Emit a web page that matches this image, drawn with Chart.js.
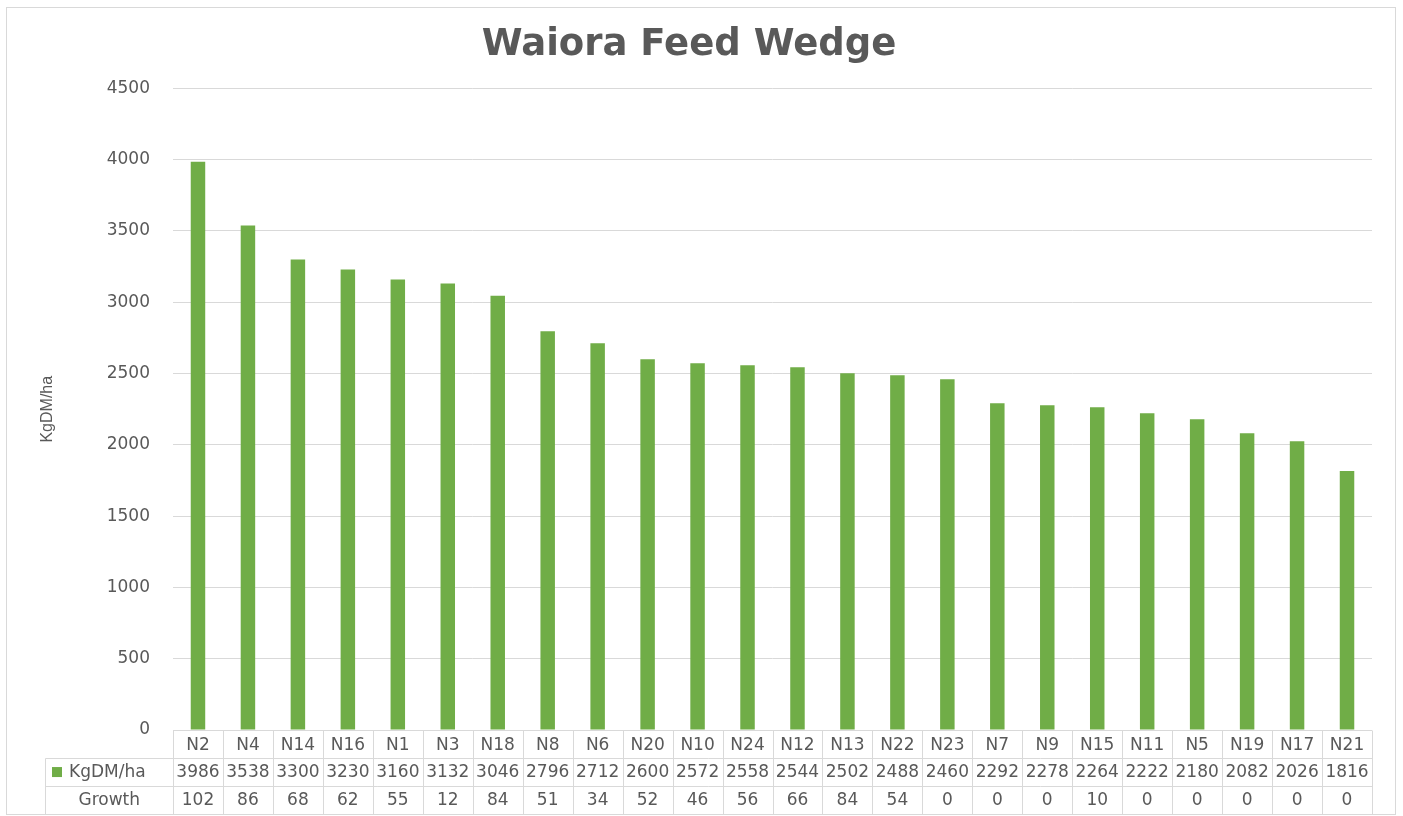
<!DOCTYPE html>
<html>
<head>
<meta charset="utf-8">
<title>Waiora Feed Wedge</title>
<script src="https://cdn.jsdelivr.net/npm/chart.js@4"></script>
<style>
  html, body { margin: 0; background: #fff; }
  #wrap { width: 1403px; height: 816px; position: relative; }
</style>
</head>
<body>
<div id="wrap"><canvas id="feedWedge"></canvas></div>
<script>
// paddocks, sorted by cover
const paddocks = ["N2", "N4", "N14", "N16", "N1", "N3", "N18", "N8", "N6", "N20", "N10", "N24",
  "N12", "N13", "N22", "N23", "N7", "N9", "N15", "N11", "N5", "N19", "N17", "N21"];
const kgdm = [3986, 3538, 3300, 3230, 3160, 3132, 3046, 2796, 2712, 2600, 2572, 2558,
  2544, 2502, 2488, 2460, 2292, 2278, 2264, 2222, 2180, 2082, 2026, 1816];
const growth = [102, 86, 68, 62, 55, 12, 84, 51, 34, 52, 46, 56,
  66, 84, 54, 0, 0, 0, 10, 0, 0, 0, 0, 0];
const yMin = 0;
const yMax = 4500;
const yStep = 500;

const green = "#70ad47";
const textGrey = "#595959";
const lineGrey = "#d9d9d9";
const tableFont = "17px 'DejaVu Sans'";

// white background + outer frame
const framePlugin = {
  id: "frame",
  beforeDraw(chart) {
    const { ctx, width, height } = chart;
    ctx.save();
    ctx.fillStyle = "#fff";
    ctx.fillRect(0, 0, width, height);
    ctx.strokeStyle = lineGrey;
    ctx.lineWidth = 1;
    ctx.strokeRect(6.5, 7.5, width - 14, height - 9);
    ctx.restore();
  },
};

// data table under the plot (like the Excel chart data table)
const dataTablePlugin = {
  id: "dataTable",
  afterDraw(chart) {
    const { ctx, chartArea } = chart;
    const x = chart.scales.x;
    const n = paddocks.length;
    const colW = chartArea.width / n;
    const rowH = 27.7;
    const top = chartArea.bottom + 0.5;
    const labelLeft = 45.5;
    const left = chartArea.left;
    const right = chartArea.right;

    ctx.save();
    ctx.strokeStyle = lineGrey;
    ctx.lineWidth = 1;
    ctx.beginPath();
    ctx.moveTo(left, top);
    ctx.lineTo(right, top);
    for (let r = 1; r <= 3; r++) {
      const y = Math.round(top + r * rowH) + 0.5;
      ctx.moveTo(labelLeft, y);
      ctx.lineTo(right, y);
    }
    for (let i = 0; i <= n; i++) {
      const xx = Math.round(left + i * colW) + 0.5;
      ctx.moveTo(xx, top);
      ctx.lineTo(xx, Math.round(top + 3 * rowH) + 0.5);
    }
    ctx.moveTo(labelLeft, Math.round(top + rowH) + 0.5);
    ctx.lineTo(labelLeft, Math.round(top + 3 * rowH) + 0.5);
    ctx.stroke();

    ctx.fillStyle = textGrey;
    ctx.font = tableFont;
    ctx.textAlign = "center";
    ctx.textBaseline = "middle";
    paddocks.forEach((p, i) => {
      const cx = x.getPixelForValue(i);
      ctx.fillText(p, cx, top + rowH * 0.5 + 1);
      ctx.fillText(String(kgdm[i]), cx, top + rowH * 1.5 + 1);
      ctx.fillText(String(growth[i]), cx, top + rowH * 2.5 + 1);
    });

    // row labels
    ctx.fillStyle = green;
    ctx.fillRect(52, top + rowH * 1.5 - 5, 10, 10);
    ctx.fillStyle = textGrey;
    ctx.textAlign = "left";
    ctx.fillText("KgDM/ha", 69, top + rowH * 1.5 + 1);
    ctx.textAlign = "center";
    ctx.fillText("Growth", (labelLeft + left) / 2, top + rowH * 2.5 + 1);
    ctx.restore();
  },
};

new Chart(document.getElementById("feedWedge"), {
  type: "bar",
  data: {
    labels: paddocks,
    datasets: [
      {
        label: "KgDM/ha",
        data: kgdm,
        backgroundColor: green,
        categoryPercentage: 1,
        barPercentage: 0.29,
      },
    ],
  },
  options: {
    responsive: true,
    maintainAspectRatio: false,
    animation: false,
    layout: { padding: { left: 6, right: 31, top: 7, bottom: 86 } },
    plugins: {
      legend: { display: false },
      tooltip: { enabled: false },
      title: {
        display: true,
        text: "Waiora Feed Wedge",
        color: textGrey,
        font: { family: "'DejaVu Sans'", size: 37, weight: "bold" },
        padding: { top: 16, bottom: 21 },
      },
    },
    scales: {
      x: { display: false },
      y: {
        min: yMin,
        max: yMax,
        border: { display: false },
        grid: { color: lineGrey, drawTicks: false },
        ticks: {
          stepSize: yStep,
          padding: 23,
          color: textGrey,
          font: { family: "'DejaVu Sans'", size: 17 },
          callback: (v) => String(v),
        },
        title: {
          display: true,
          text: "KgDM/ha",
          color: textGrey,
          font: { family: "'Liberation Sans Narrow', 'Liberation Sans'", size: 16 },
          padding: { top: 32, bottom: 0 },
        },
        afterFit(scale) {
          scale.width = 167;
        },
      },
    },
  },
  plugins: [framePlugin, dataTablePlugin],
});
</script>
</body>
</html>
